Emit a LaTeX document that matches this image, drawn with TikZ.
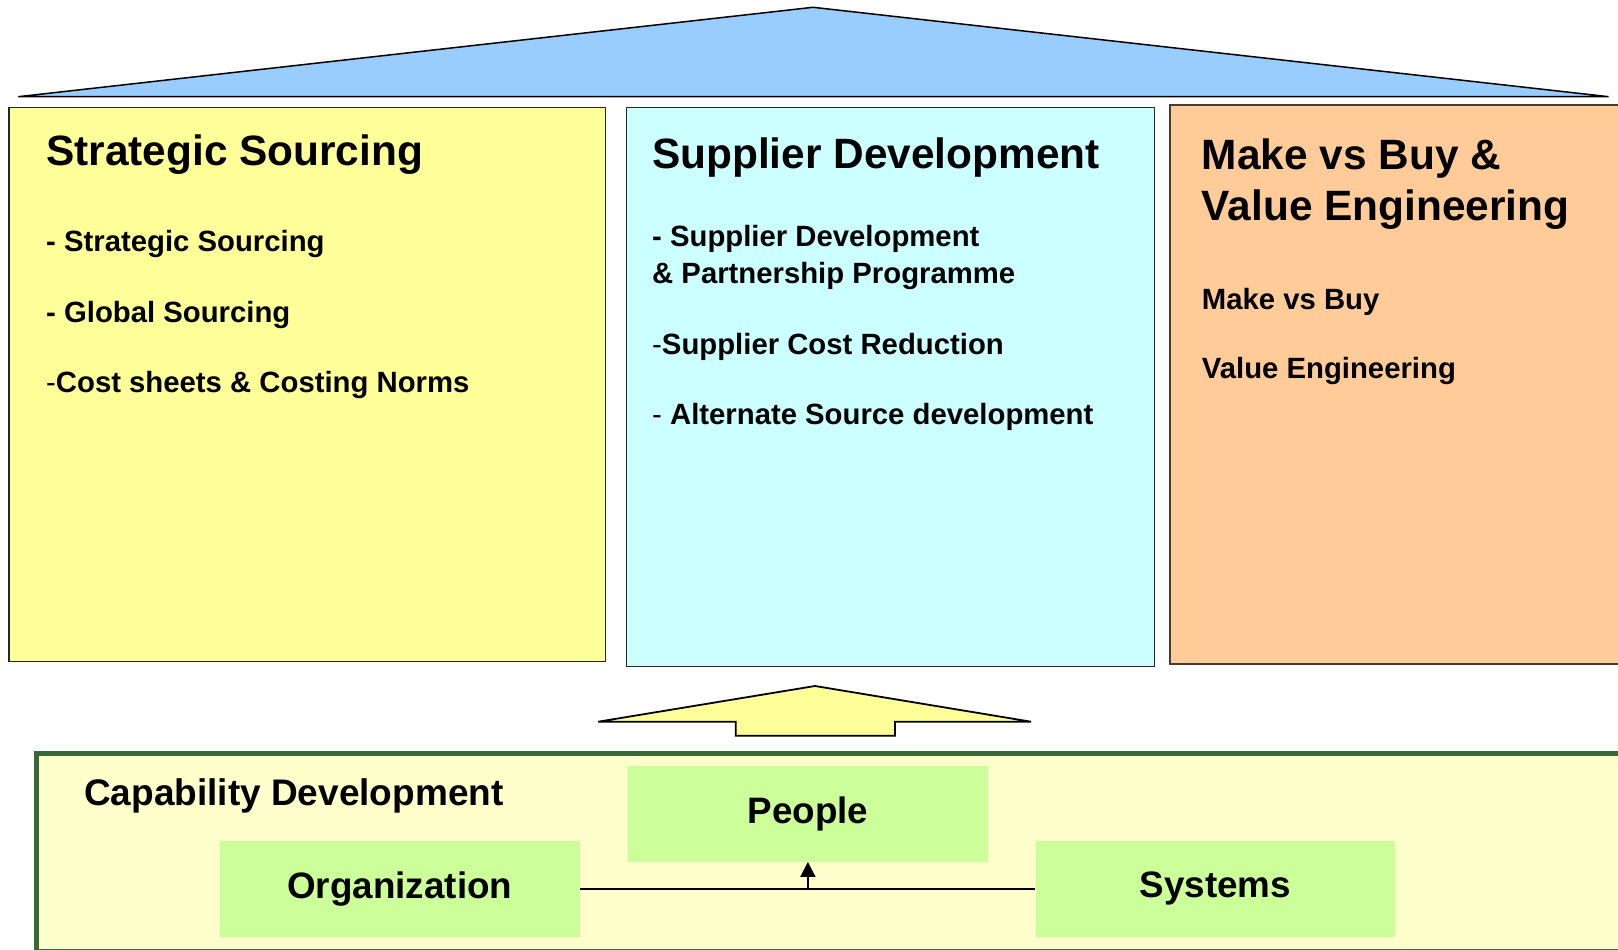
\documentclass[tikz,border=0pt]{standalone}
\usepackage{fontspec}
\setmainfont{Liberation Sans}
\usetikzlibrary{arrows.meta}
\definecolor{roofblue}{HTML}{99CCFF}
\definecolor{paleyellow}{HTML}{FFFF99}
\definecolor{palecyan}{HTML}{CCFFFF}
\definecolor{paleorange}{HTML}{FFCC99}
\definecolor{cream}{HTML}{FFFFCC}
\definecolor{limegreen}{HTML}{CCFF99}
\definecolor{darkleaf}{HTML}{366936}
\definecolor{darkbrown}{HTML}{4A3B2C}
\begin{document}
\begin{tikzpicture}[x=1pt,y=-1pt,
  pillar/.style={draw=black!85, line width=1.4pt, anchor=north west, inner sep=0pt},
  titletext/.style={anchor=base west, inner sep=0pt, font=\fontsize{42.4}{50}\selectfont\bfseries},
  itemtext/.style={anchor=base west, inner sep=0pt, font=\fontsize{29.3}{36}\selectfont\bfseries},
  capbox/.style={fill=limegreen, minimum width=359.6pt, minimum height=95.7pt, inner sep=0pt,
    font=\fontsize{36.8}{44}\selectfont\bfseries},
  link/.style={line width=1.5pt}]
\useasboundingbox (0,0) rectangle (1618,950);
\clip (0,0) rectangle (1618,950);
\fill[white] (0,0) rectangle (1618,950);

% roof
\draw[fill=roofblue, line width=1.5pt, line join=miter]
  (18.3,96.7) -- (813,7.3) -- (1608.6,96.7) -- cycle;

% three pillars
\node[pillar, fill=paleyellow, minimum width=596.2pt, minimum height=554pt] (ssbox) at (8.3,106.7) {};
\node[pillar, fill=palecyan, minimum width=527.5pt, minimum height=559pt] (sdbox) at (626,106.7) {};
\node[pillar, fill=paleorange, draw=darkbrown, line width=2pt, minimum width=480pt, minimum height=559.2pt] (mbbox) at (1169.3,103.5) {};

% strategic sourcing texts
\node[titletext] (sst) at (46,165) {Strategic Sourcing};
\node[itemtext] (ss1) at (46,251.7) {- Strategic Sourcing};
\node[itemtext] (ss2) at (46,322.7) {- Global Sourcing};
\node[itemtext] (ss3) at (46,392.7) {{\mdseries -}Cost sheets \& Costing Norms};

% supplier development texts
\node[titletext] (sdt) at (652,168) {Supplier Development};
\node[itemtext] (sd1) at (652,246.7) {- Supplier Development};
\node[itemtext] (sd2) at (652,283.3) {\& Partnership Programme};
\node[itemtext] (sd3) at (652,354) {{\mdseries -}Supplier Cost Reduction};
\node[itemtext] (sd4) at (652,424) {{\mdseries -} Alternate Source development};

% make vs buy texts
\node[titletext] (mbt1) at (1201.7,169.3) {Make vs Buy \&};
\node[titletext] (mbt2) at (1201.7,220) {Value Engineering};
\node[itemtext] (mb1) at (1201.7,309.3) {Make vs Buy};
\node[itemtext] (mb2) at (1201.7,378.3) {Value Engineering};

% support arrow
\draw[fill=paleyellow, line width=1.8pt, line join=miter]
  (598.3,721.7) -- (815,686) -- (1031,721.7) -- (895,721.7) -- (895,735.7)
  -- (735.7,735.7) -- (735.7,721.7) -- cycle;

% capability foundation
\draw[fill=cream, draw=darkleaf, line width=4.6pt] (36.5,753.3) rectangle (1660,951.5);
\node[anchor=base west, inner sep=0pt, font=\fontsize{37}{44}\selectfont\bfseries] (capt) at (84,805) {Capability Development};

\node[capbox] (people) at (807.9,813.9) {People};
\node[capbox] (org) at (399.8,888.9) {Organization};
\node[capbox] (sys) at (1215.3,888.9) {Systems};

\draw[link] (org.east) -- (sys.west);
\coordinate (junction) at (org.east -| people.south);
\draw[line width=2pt, -{Triangle[width=15pt,length=15pt]}] (junction) -- (people.south);
\end{tikzpicture}
\end{document}
